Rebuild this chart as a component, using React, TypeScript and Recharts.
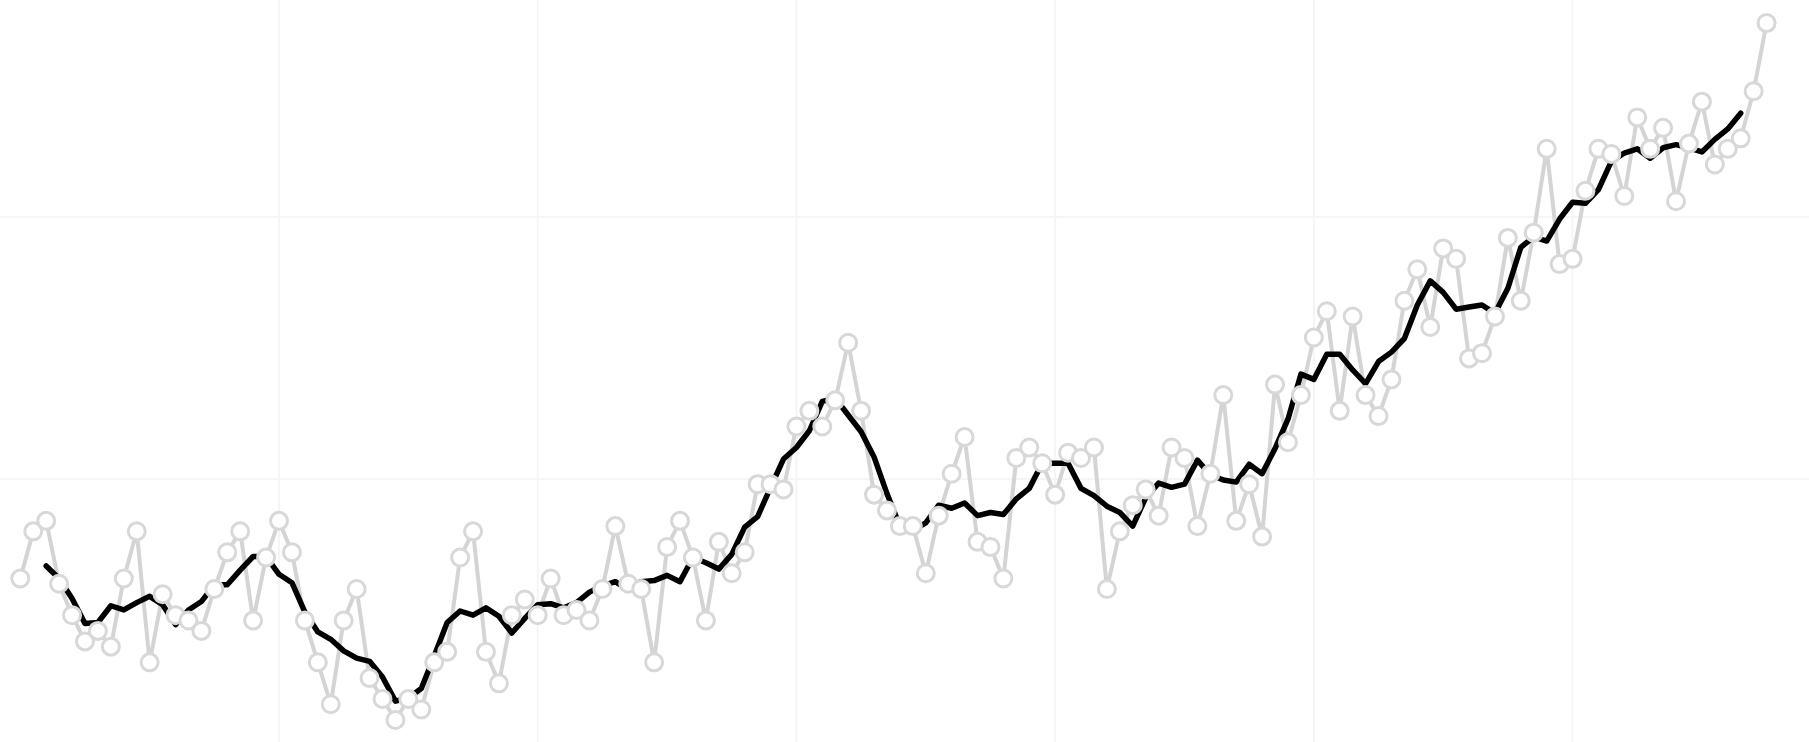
import React from 'react';
import { ComposedChart, Line, XAxis, YAxis, ReferenceLine } from 'recharts';

// Annual anomaly values, one per year starting at FIRST_YEAR
const FIRST_YEAR = 1880;
const annual1880s = [-0.19, -0.10, -0.08, -0.20, -0.26, -0.31, -0.29, -0.32, -0.19, -0.10];
const annual1890s = [-0.35, -0.22, -0.26, -0.27, -0.29, -0.21, -0.14, -0.10, -0.27, -0.15];
const annual1900s = [-0.08, -0.14, -0.27, -0.35, -0.43, -0.27, -0.21, -0.38, -0.42, -0.46];
const annual1910s = [-0.42, -0.44, -0.35, -0.33, -0.15, -0.10, -0.33, -0.39, -0.26, -0.23];
const annual1920s = [-0.26, -0.19, -0.26, -0.25, -0.27, -0.21, -0.09, -0.20, -0.21, -0.35];
const annual1930s = [-0.13, -0.08, -0.15, -0.27, -0.12, -0.18, -0.14, -0.01, -0.01, -0.02];
const annual1940s = [0.10, 0.13, 0.10, 0.15, 0.26, 0.13, -0.03, -0.06, -0.09, -0.09];
const annual1950s = [-0.18, -0.07, 0.01, 0.08, -0.12, -0.13, -0.19, 0.04, 0.06, 0.03];
const annual1960s = [-0.03, 0.05, 0.04, 0.06, -0.21, -0.10, -0.05, -0.02, -0.07, 0.06];
const annual1970s = [0.04, -0.09, 0.01, 0.16, -0.08, -0.01, -0.11, 0.18, 0.07, 0.16];
const annual1980s = [0.27, 0.32, 0.13, 0.31, 0.16, 0.12, 0.19, 0.34, 0.40, 0.29];
const annual1990s = [0.44, 0.42, 0.23, 0.24, 0.31, 0.46, 0.34, 0.47, 0.63, 0.41];
const annual2000s = [0.42, 0.55, 0.63, 0.62, 0.54, 0.69, 0.63, 0.67, 0.53, 0.64];
const annual2010s = [0.72, 0.60, 0.63, 0.65, 0.74, 0.87];

// Smoothed (5-year) line, one per year starting at SMOOTH_FIRST_YEAR
const SMOOTH_FIRST_YEAR = 1882;
const smooth1880s = [-0.166, -0.19, -0.228, -0.276, -0.274, -0.242, -0.25, -0.236];
const smooth1890s = [-0.224, -0.24, -0.278, -0.25, -0.234, -0.202, -0.202, -0.174, -0.148, -0.148];
const smooth1900s = [-0.182, -0.198, -0.254, -0.292, -0.306, -0.328, -0.342, -0.348, -0.378, -0.424];
const smooth1910s = [-0.418, -0.40, -0.338, -0.274, -0.252, -0.26, -0.246, -0.262, -0.294, -0.266];
const smooth1920s = [-0.24, -0.238, -0.246, -0.236, -0.216, -0.204, -0.196, -0.212, -0.196, -0.194];
const smooth1930s = [-0.184, -0.196, -0.15, -0.16, -0.172, -0.144, -0.092, -0.072, -0.016, 0.038];
const smooth1940s = [0.06, 0.092, 0.148, 0.154, 0.122, 0.09, 0.042, -0.028, -0.09, -0.098];
const smooth1950s = [-0.084, -0.05, -0.056, -0.046, -0.07, -0.064, -0.068, -0.038, -0.018, 0.03];
const smooth1960s = [0.03, 0.03, -0.018, -0.032, -0.052, -0.064, -0.09, -0.036, -0.008, -0.016];
const smooth1970s = [-0.01, 0.036, 0.008, -0.002, -0.006, 0.028, 0.01, 0.058, 0.114, 0.20];
const smooth1980s = [0.19, 0.238, 0.238, 0.208, 0.182, 0.224, 0.242, 0.268, 0.332, 0.378];
const smooth1990s = [0.356, 0.324, 0.328, 0.332, 0.316, 0.364, 0.442, 0.462, 0.454, 0.496];
const smooth2000s = [0.528, 0.526, 0.552, 0.606, 0.622, 0.63, 0.612, 0.632, 0.638, 0.632];
const smooth2010s = [0.624, 0.648, 0.668, 0.698];

// Grid positions
const xGridYears = [1900, 1920, 1940, 1960, 1980, 2000];
const yGridValues = [0, 0.5];

const X_DOMAIN: [number, number] = [1878.43, 2018.28];
const Y_DOMAIN: [number, number] = [-0.502, 0.914];

const annual = [
  ...annual1880s, ...annual1890s, ...annual1900s, ...annual1910s, ...annual1920s,
  ...annual1930s, ...annual1940s, ...annual1950s, ...annual1960s, ...annual1970s,
  ...annual1980s, ...annual1990s, ...annual2000s, ...annual2010s,
];
const smooth = [
  ...smooth1880s, ...smooth1890s, ...smooth1900s, ...smooth1910s, ...smooth1920s,
  ...smooth1930s, ...smooth1940s, ...smooth1950s, ...smooth1960s, ...smooth1970s,
  ...smooth1980s, ...smooth1990s, ...smooth2000s, ...smooth2010s,
];

const data = annual.map((v, i) => {
  const year = FIRST_YEAR + i;
  const si = year - SMOOTH_FIRST_YEAR;
  return {
    year,
    annual: v,
    smooth: si >= 0 && si < smooth.length ? smooth[si] : null,
  };
});

const W = 1809;
const H = 742;

export default function App() {
  return (
    <div style={{ position: 'absolute', left: 0, top: 0, width: W, height: H, background: '#fff' }}>
      <ComposedChart width={W} height={H} data={data} margin={{ top: 0, right: 0, bottom: 0, left: 0 }}>
        <XAxis type="number" dataKey="year" domain={X_DOMAIN} hide allowDataOverflow />
        <YAxis type="number" domain={Y_DOMAIN} hide allowDataOverflow />
        {xGridYears.map((yr) => (
          <ReferenceLine key={`vx${yr}`} x={yr} stroke="#f5f5f5" strokeWidth={2} />
        ))}
        {yGridValues.map((v) => (
          <ReferenceLine key={`hy${v}`} y={v} stroke="#f5f5f5" strokeWidth={2} />
        ))}
        <Line
          type="linear"
          dataKey="annual"
          stroke="#d4d4d4"
          strokeWidth={4}
          strokeLinejoin="round"
          dot={{ r: 8.5, fill: '#ffffff', stroke: '#d8d8d8', strokeWidth: 3 }}
          activeDot={false}
          isAnimationActive={false}
        />
        <Line
          type="linear"
          dataKey="smooth"
          stroke="#000000"
          strokeWidth={5.5}
          strokeLinejoin="round"
          strokeLinecap="round"
          dot={false}
          activeDot={false}
          isAnimationActive={false}
        />
      </ComposedChart>
    </div>
  );
}
